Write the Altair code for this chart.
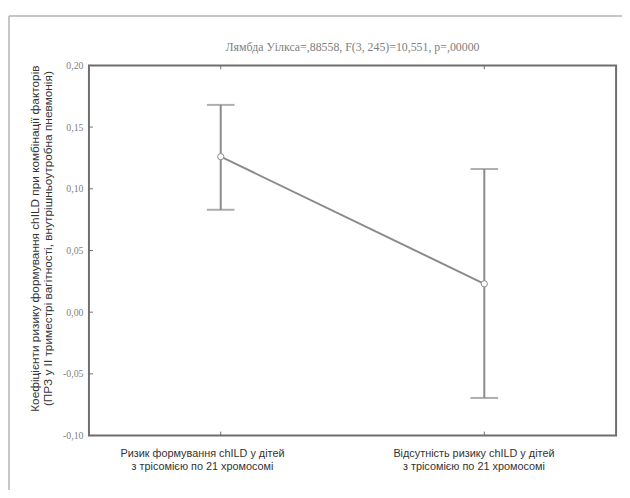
import altair as alt
import pandas as pd

categories = ["Ризик формування chILD у дітей|з трісомією по 21 хромосомі",
              "Відсутність ризику chILD у дітей|з трісомією по 21 хромосомі"]
means = [0.126, 0.023]
lower = [0.083, -0.0695]
upper = [0.168, 0.116]
y_ticks = [-0.10, -0.05, 0.00, 0.05, 0.10, 0.15, 0.20]

title_text = "Лямбда Уілкса=,88558, F(3, 245)=10,551, p=,00000"
y_title = ["Коефіцієнти ризику формування chILD  при комбінації факторів",
           "(ПРЗ у ІІ триместрі вагітності, внутрішньоутробна пневмонія)"]

df = pd.DataFrame({"cat": categories, "mean": means, "lo": lower, "hi": upper})
tick_df = pd.DataFrame({"v": y_ticks})

LINE = "#8a8a8a"
FRAME = "#6e6e6e"

x_enc = alt.X("cat:N", sort=categories,
              scale=alt.Scale(type="point", padding=0.5),
              axis=alt.Axis(title=None, orient="bottom", domain=False, ticks=False,
                            grid=False,
                            labelExpr="split(datum.label, '|')",
                            labelFont="Liberation Sans", labelFontSize=11,
                            labelColor="#333333", labelLineHeight=13,
                            labelAlign="center", labelBaseline="top",
                            labelPadding=12, labelAngle=0,
                            labelOffset={"condition": {"test": "datum.index == 0", "value": -19},
                                         "value": -11}))
y_scale = alt.Scale(domain=[-0.10, 0.20], nice=False, zero=False)
y_enc = alt.Y("mean:Q", scale=y_scale,
              axis=alt.Axis(title=y_title, values=y_ticks, domain=False, ticks=False,
                            labelExpr="replace(replace(format(datum.value, '.2f'), '.', ','), '\u2212', '-')",
                            labelFont="Liberation Serif", labelFontSize=10,
                            labelColor="#808080", labelPadding=6,
                            titleFont="Liberation Sans", titleFontSize=12,
                            titleFontWeight="normal", titleColor="#333333",
                            titleLineHeight=13, titlePadding=8, titleY=175,
                            grid=False))

base = alt.Chart(df)

bars = base.mark_rule(color=LINE, strokeWidth=2).encode(
    x=x_enc, y=alt.Y("lo:Q", scale=y_scale), y2="hi:Q")
cap_lo = base.mark_tick(color=LINE, thickness=2, size=28).encode(
    x=alt.X("cat:N", sort=categories), y=alt.Y("lo:Q", scale=y_scale))
cap_hi = base.mark_tick(color=LINE, thickness=2, size=28).encode(
    x=alt.X("cat:N", sort=categories), y=alt.Y("hi:Q", scale=y_scale))
line = base.mark_line(color=LINE, strokeWidth=2).encode(
    x=alt.X("cat:N", sort=categories), y=y_enc)
pts = base.mark_point(filled=True, fill="white", stroke=LINE, strokeWidth=1,
                      size=40, opacity=1).encode(
    x=alt.X("cat:N", sort=categories), y=alt.Y("mean:Q", scale=y_scale))

# inward ticks
ytick = alt.Chart(tick_df).mark_rule(color=FRAME, strokeWidth=1).encode(
    y=alt.Y("v:Q", scale=y_scale), x=alt.value(0), x2=alt.value(4))
xtick_b = base.mark_rule(color=FRAME, strokeWidth=1).encode(
    x=alt.X("cat:N", sort=categories), y=alt.value(375), y2=alt.value(371))
xtick_t = base.mark_rule(color=FRAME, strokeWidth=1).encode(
    x=alt.X("cat:N", sort=categories), y=alt.value(0), y2=alt.value(4))

one = alt.Data(values=[{"a": 1}])
frame_top = alt.Chart(one).mark_rule(color="#b4b4b4", strokeWidth=1.5).encode(
    x=alt.value(-81), x2=alt.value(560), y=alt.value(-50))
frame_left = alt.Chart(one).mark_rule(color="#b4b4b4", strokeWidth=1.5).encode(
    x=alt.value(-81), y=alt.value(-50), y2=alt.value(440))
title_mark = alt.Chart(one).mark_text(
    font="Liberation Serif", fontSize=12, color="#808080",
    align="center", baseline="middle").encode(
    text=alt.value(title_text), x=alt.value(267), y=alt.value(-19))

chart = alt.layer(frame_top, frame_left, title_mark, ytick, xtick_b, xtick_t,
                  line, bars, cap_lo, cap_hi, pts).properties(
    width=534, height=375,
    autosize=alt.AutoSizeParams(type="none"),
    padding={"left": 82, "top": 55, "right": 6, "bottom": 52},
).configure(background="white").configure_view(stroke=FRAME, strokeWidth=2)

chart.save("out.html", embed_options={"renderer": "svg", "actions": False})
